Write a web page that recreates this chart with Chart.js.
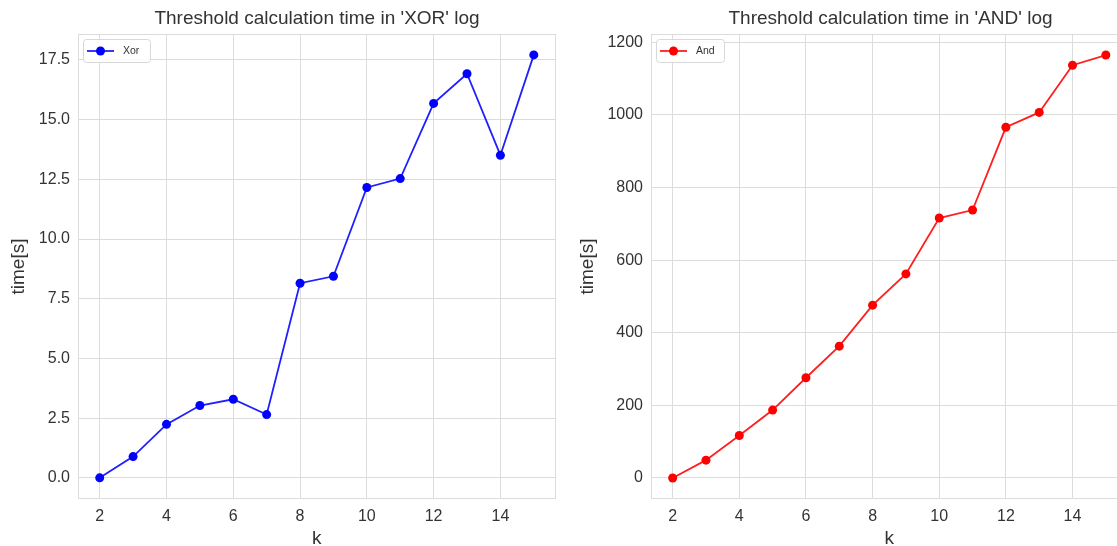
<!DOCTYPE html>
<html lang="en">
<head>
  <meta charset="UTF-8">
  <title>Threshold calculation time</title>
  <script src="https://cdn.jsdelivr.net/npm/chart.js"></script>
  <style>
    * { margin: 0; padding: 0; box-sizing: border-box; }
    html, body { width: 1117px; height: 546px; overflow: hidden; background: white; }
    .box { position: absolute; top: 0; height: 546px; }
    #leftBox { left: 0; width: 560px; }
    #rightBox { left: 560px; width: 572px; }
  </style>
</head>
<body>
  <div class="box" id="leftBox"><canvas id="xorChart"></canvas></div>
  <div class="box" id="rightBox"><canvas id="andChart"></canvas></div>

  <script>
    // data
    var kValues = [2, 3, 4, 5, 6, 7, 8, 9, 10, 11, 12, 13, 14, 15];
    var xorTimes = [0, 0.89, 2.24, 3.03, 3.29, 2.65, 8.15, 8.44, 12.16, 12.53, 15.68, 16.92, 13.51, 17.71];
    var andTimes = [0, 49, 117, 187, 276, 363, 476, 562, 716, 738, 966, 1007, 1137, 1165];
    var xTicks = [2, 4, 6, 8, 10, 12, 14];
    var xorTicks = [0, 2.5, 5, 7.5, 10, 12.5, 15, 17.5];
    var andTicks = [0, 200, 400, 600, 800, 1000, 1200];

    var FONT = "'Liberation Sans', Arial, sans-serif";
    var GRID = '#dcdcdc';
    var TEXT = '#333333';

    function toPoints(ys) {
      return kValues.map(function (k, i) { return { x: k, y: ys[i] }; });
    }

    // axes frame, title and a matplotlib style legend (line with marker in a box)
    var decorPlugin = {
      id: 'decor',
      beforeDatasetsDraw: function (chart) {
        var ctx = chart.ctx;
        var a = chart.chartArea;
        ctx.save();
        ctx.strokeStyle = GRID;
        ctx.lineWidth = 1;
        ctx.strokeRect(Math.round(a.left) + 0.5, Math.round(a.top) + 0.5,
          Math.round(a.right - a.left) - 1, Math.round(a.bottom - a.top) - 1);
        ctx.restore();
      },
      afterDraw: function (chart, args, opts) {
        var ctx = chart.ctx;
        var area = chart.chartArea;
        ctx.save();
        ctx.fillStyle = TEXT;
        ctx.font = '19px ' + FONT;
        ctx.textAlign = 'center';
        ctx.textBaseline = 'middle';
        ctx.fillText(opts.title, (area.left + opts.titleRight) / 2, 19);

        var ds = chart.data.datasets[0];
        var bx = area.left + 5, by = area.top + 5, bw = opts.legendWidth, bh = 23;
        ctx.fillStyle = 'rgba(255,255,255,0.85)';
        ctx.strokeStyle = '#d8d8d8';
        ctx.lineWidth = 1;
        ctx.beginPath();
        ctx.roundRect(bx + 0.5, by + 0.5, bw, bh, 3);
        ctx.fill();
        ctx.stroke();
        var ly = by + bh / 2 + 0.5;
        ctx.strokeStyle = ds.borderColor;
        ctx.lineWidth = 1.8;
        ctx.beginPath();
        ctx.moveTo(bx + 4, ly);
        ctx.lineTo(bx + 31, ly);
        ctx.stroke();
        ctx.fillStyle = ds.pointBackgroundColor;
        ctx.beginPath();
        ctx.arc(bx + 17.5, ly, 4.5, 0, Math.PI * 2);
        ctx.fill();
        ctx.fillStyle = TEXT;
        ctx.font = '10.5px ' + FONT;
        ctx.textAlign = 'left';
        ctx.fillText(ds.label, bx + 40, ly);
        ctx.restore();
      }
    };

    function makeChart(id, cfg) {
      return new Chart(document.getElementById(id), {
        type: 'line',
        data: {
          datasets: [{
            label: cfg.label,
            data: toPoints(cfg.values),
            borderColor: cfg.line,
            backgroundColor: cfg.color,
            pointBackgroundColor: cfg.color,
            pointBorderColor: cfg.color,
            pointRadius: 4.5,
            pointBorderWidth: 0,
            borderWidth: 1.8,
            tension: 0,
            fill: false
          }]
        },
        options: {
          responsive: true,
          maintainAspectRatio: false,
          animation: false,
          layout: { padding: { top: 34, right: cfg.padRight, left: 0, bottom: 0 } },
          plugins: {
            legend: { display: false },
            tooltip: { enabled: false },
            title: { display: false },
            decor: { title: cfg.title, titleRight: cfg.titleRight, legendWidth: cfg.legendWidth }
          },
          scales: {
            x: {
              type: 'linear',
              min: 1.35,
              max: 15.65,
              afterFit: function (s) { s.height = 47; },
              afterBuildTicks: function (s) { s.ticks = xTicks.map(function (v) { return { value: v }; }); },
              grid: { color: GRID, drawTicks: false },
              border: { display: false },
              ticks: { color: TEXT, padding: 8, font: { family: FONT, size: 16 } },
              title: { display: true, text: 'k', color: TEXT, font: { family: FONT, size: 19, lineHeight: 1 }, padding: { top: 0, bottom: -2 } }
            },
            y: {
              min: cfg.yMin,
              max: cfg.yMax,
              afterFit: function (s) { s.width = cfg.yWidth; },
              afterBuildTicks: function (s) { s.ticks = cfg.yTicks.map(function (v) { return { value: v }; }); },
              grid: { color: GRID, drawTicks: false },
              border: { display: false },
              ticks: {
                color: TEXT,
                padding: 8,
                font: { family: FONT, size: 16 },
                callback: function (v) { return cfg.decimals ? v.toFixed(1) : String(v); }
              },
              title: { display: true, text: 'time[s]', color: TEXT, font: { family: FONT, size: 19, lineHeight: 1 }, padding: { top: cfg.yTitlePad, bottom: 0 } }
            }
          }
        },
        plugins: [decorPlugin]
      });
    }

    makeChart('xorChart', {
      label: 'Xor',
      values: xorTimes,
      line: 'rgba(0, 0, 255, 0.88)',
      color: '#0000ff',
      title: "Threshold calculation time in 'XOR' log",
      titleRight: 556,
      legendWidth: 67,
      padRight: 4,
      yMin: -0.885,
      yMax: 18.585,
      yTicks: xorTicks,
      yWidth: 78,
      yTitlePad: 9,
      decimals: true
    });

    makeChart('andChart', {
      label: 'And',
      values: andTimes,
      line: 'rgba(255, 0, 0, 0.88)',
      color: '#ff0000',
      title: "Threshold calculation time in 'AND' log",
      titleRight: 570,
      legendWidth: 68,
      padRight: 2,
      yMin: -58,
      yMax: 1223,
      yTicks: andTicks,
      yWidth: 91,
      yTitlePad: 18,
      decimals: false
    });
  </script>
</body>
</html>
